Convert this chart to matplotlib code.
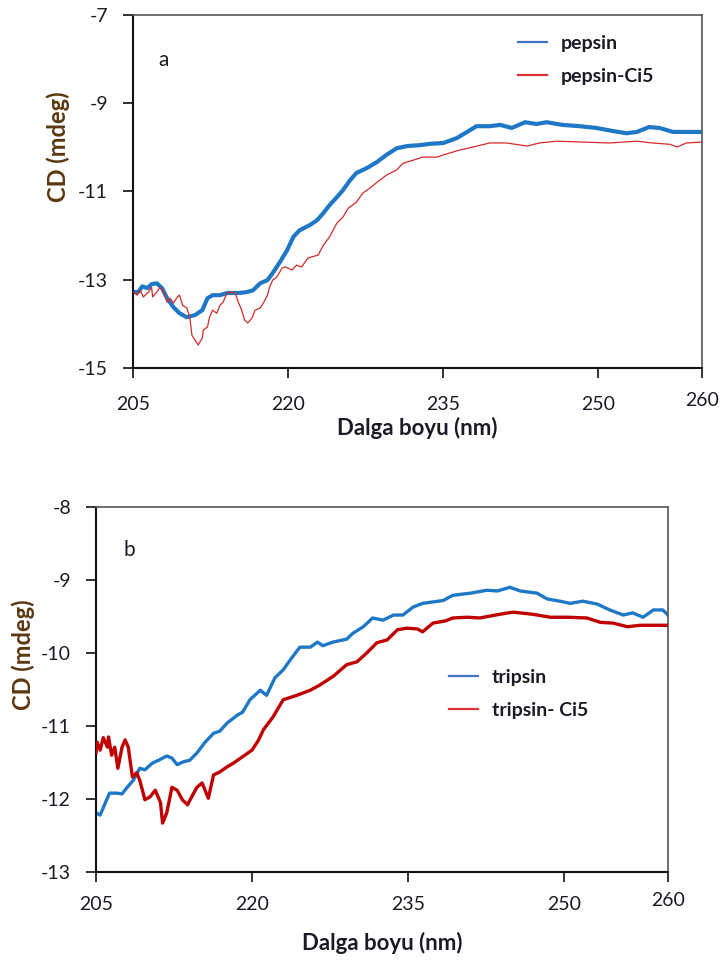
"""
CD spectra of pepsin / tripsin with and without Ci5 (two stacked panels).
"""
from matplotlib import pyplot as plt

plt.rcParams['font.family'] = ['Lato', 'DejaVu Sans']
plt.rcParams['axes.unicode_minus'] = False

# ---- panel a: pepsin ----
pepsin_nm = [205.0, 205.5, 205.9, 206.4, 206.8, 207.3, 207.8, 208.3, 208.9, 209.5,
             210.2, 211.0, 211.7, 212.2, 212.7, 213.4, 214.1, 214.7, 215.3, 216.0,
             216.6, 217.3, 218.0, 218.5, 219.2, 219.9, 220.5, 221.1, 222.1, 222.8,
             223.4, 224.0, 224.7, 225.3, 226.0, 226.6, 227.6, 228.6, 229.5, 230.5,
             231.5, 232.7, 233.7, 235.0, 236.3, 237.3, 238.2, 239.5, 240.5, 241.6,
             242.9, 244.0, 245.0, 246.5, 248.2, 249.8, 251.4, 252.7, 253.7, 254.9,
             255.9, 257.2, 258.5, 260.0]
pepsin_cd = [-13.28, -13.28, -13.15, -13.19, -13.10, -13.08, -13.19, -13.42, -13.62, -13.76,
             -13.85, -13.80, -13.69, -13.42, -13.35, -13.35, -13.30, -13.30, -13.30, -13.28,
             -13.24, -13.08, -13.01, -12.85, -12.60, -12.33, -12.03, -11.88, -11.76, -11.65,
             -11.49, -11.31, -11.13, -10.97, -10.74, -10.58, -10.47, -10.33, -10.17, -10.02,
             -9.97, -9.95, -9.92, -9.90, -9.79, -9.65, -9.52, -9.52, -9.49, -9.56,
             -9.43, -9.47, -9.43, -9.49, -9.52, -9.56, -9.63, -9.68, -9.65, -9.54,
             -9.56, -9.65, -9.65, -9.65]

pepsin_ci5_nm = [205.0, 205.4, 205.7, 206.0, 206.5, 206.8, 206.9, 207.3, 207.6, 207.9,
                 208.3, 208.6, 208.9, 209.3, 209.5, 209.8, 210.2, 210.5, 210.7, 211.0,
                 211.3, 211.7, 211.8, 212.2, 212.4, 212.7, 213.1, 213.4, 213.7, 214.1,
                 214.4, 214.9, 215.1, 215.5, 215.8, 216.1, 216.5, 216.8, 217.3, 217.6,
                 218.0, 218.2, 218.5, 218.9, 219.4, 219.7, 220.4, 220.8, 221.3, 221.9,
                 222.9, 223.4, 224.0, 224.7, 225.3, 225.8, 226.6, 227.2, 227.9, 228.6,
                 229.5, 230.5, 231.1, 232.1, 233.0, 234.4, 235.0, 236.6, 237.9, 239.5,
                 241.1, 243.1, 244.3, 246.0, 248.5, 251.1, 253.7, 255.2, 256.9, 257.6,
                 258.5, 260.0]
pepsin_ci5_cd = [-13.27, -13.35, -13.24, -13.39, -13.28, -13.17, -13.39, -13.28, -13.17, -13.24,
                 -13.51, -13.42, -13.53, -13.39, -13.35, -13.58, -13.64, -13.87, -14.26, -14.37,
                 -14.48, -14.32, -14.14, -14.07, -13.85, -13.69, -13.76, -13.58, -13.51, -13.30,
                 -13.28, -13.30, -13.46, -13.69, -13.92, -13.98, -13.87, -13.69, -13.64, -13.53,
                 -13.35, -13.17, -13.01, -12.94, -12.74, -12.71, -12.78, -12.67, -12.71, -12.51,
                 -12.44, -12.22, -12.03, -11.72, -11.58, -11.38, -11.24, -11.04, -10.92, -10.79,
                 -10.63, -10.51, -10.36, -10.29, -10.22, -10.22, -10.17, -10.06, -9.99, -9.90,
                 -9.90, -9.97, -9.90, -9.86, -9.88, -9.90, -9.86, -9.90, -9.93, -9.99,
                 -9.90, -9.88]

# ---- panel b: tripsin ----
tripsin_nm = [205.0, 205.4, 205.9, 206.3, 207.0, 207.5, 208.0, 208.6, 209.2, 209.7,
              210.4, 211.0, 211.8, 212.3, 212.8, 213.4, 214.0, 214.7, 215.5, 216.3,
              216.9, 217.6, 218.6, 219.1, 219.8, 220.8, 221.4, 222.2, 223.0, 223.8,
              224.6, 225.6, 226.3, 226.8, 227.8, 229.1, 229.7, 230.7, 231.6, 232.6,
              233.6, 234.5, 235.5, 236.4, 237.4, 238.4, 239.3, 241.0, 242.6, 243.6,
              244.8, 245.8, 247.4, 248.4, 249.6, 250.6, 251.8, 253.2, 254.4, 255.7,
              256.6, 257.6, 258.6, 259.5, 260.0]
tripsin_cd = [-12.19, -12.22, -12.05, -11.92, -11.92, -11.93, -11.84, -11.74, -11.58, -11.60,
              -11.51, -11.47, -11.41, -11.44, -11.53, -11.49, -11.47, -11.37, -11.22, -11.10,
              -11.07, -10.96, -10.85, -10.81, -10.64, -10.51, -10.58, -10.34, -10.23, -10.07,
              -9.92, -9.92, -9.85, -9.90, -9.85, -9.81, -9.73, -9.64, -9.52, -9.55,
              -9.48, -9.48, -9.37, -9.32, -9.30, -9.28, -9.21, -9.18, -9.14, -9.15,
              -9.10, -9.15, -9.18, -9.26, -9.29, -9.32, -9.29, -9.33, -9.41, -9.48,
              -9.45, -9.51, -9.41, -9.41, -9.48]

tripsin_ci5_nm = [205.0, 205.1, 205.4, 205.7, 206.1, 206.2, 206.5, 206.8, 207.1, 207.5,
                  207.8, 208.1, 208.5, 208.9, 209.2, 209.7, 210.2, 210.7, 211.2, 211.4,
                  211.8, 212.3, 212.8, 213.3, 213.8, 214.2, 214.7, 215.2, 215.8, 216.3,
                  216.9, 217.6, 218.2, 219.1, 220.0, 220.6, 221.1, 222.0, 223.0, 224.3,
                  225.6, 226.5, 227.8, 229.1, 230.1, 231.1, 232.0, 233.0, 234.0, 234.9,
                  235.9, 236.4, 237.4, 238.6, 239.3, 240.7, 241.9, 243.8, 245.1, 247.0,
                  248.7, 250.3, 252.2, 253.5, 254.7, 256.1, 257.3, 258.9, 260.0]
tripsin_ci5_cd = [-11.37, -11.22, -11.33, -11.16, -11.29, -11.15, -11.40, -11.29, -11.58, -11.29,
                  -11.19, -11.29, -11.70, -11.64, -11.74, -12.01, -11.97, -11.88, -12.05, -12.33,
                  -12.19, -11.84, -11.88, -12.01, -12.08, -11.97, -11.84, -11.78, -11.99, -11.67,
                  -11.63, -11.56, -11.51, -11.42, -11.33, -11.20, -11.05, -10.88, -10.64, -10.58,
                  -10.51, -10.44, -10.32, -10.16, -10.12, -9.99, -9.86, -9.82, -9.68, -9.66,
                  -9.67, -9.71, -9.59, -9.56, -9.52, -9.51, -9.52, -9.47, -9.44, -9.47,
                  -9.51, -9.51, -9.52, -9.58, -9.59, -9.64, -9.62, -9.62, -9.62]

x_ticks = [205, 220, 235, 250, 260]
top_y_ticks = [-15, -13, -11, -9, -7]
bottom_y_ticks = [-13, -12, -11, -10, -9, -8]

BLUE = '#1f78c6'
TEXT = '#1c1a24'


def style_axes(ax, y_ticks, xpad):
    """
    Applies the Excel-like frame, ticks and fonts to one panel.
    """
    ax.set_xlim(205, 260)
    ax.set_ylim(y_ticks[0], y_ticks[-1])
    ax.set_xticks(x_ticks)
    ax.set_yticks(y_ticks)
    ax.tick_params(direction='out', length=7, width=1.3, colors='#222222',
                   labelsize=14, labelcolor=TEXT)
    ax.tick_params(axis='y', pad=11)
    ax.tick_params(axis='x', pad=xpad)
    for side in ['left', 'bottom']:
        ax.spines[side].set_linewidth(1.5)
        ax.spines[side].set_color('#111111')
    for side in ['top', 'right']:
        ax.spines[side].set_linewidth(1.2)
        ax.spines[side].set_color('#555555')
    ax.set_xlabel('Dalga boyu (nm)', fontsize=16, fontweight='bold', color=TEXT)
    ax.set_ylabel('CD (mdeg)', fontsize=17, fontweight='bold', color='#5a3812')
    # Excel draws the axis-maximum label (260) a touch higher than the others
    ax.get_xticklabels()[-1].set_y(0.012)


def add_legend(ax, labels, anchor):
    """
    Frameless legend with short line handles, as in the reference.
    """
    handles = [plt.Line2D([], [], color='#4472c4', lw=1.6, label=labels[0]),
               plt.Line2D([], [], color='#e0303a', lw=1.6, label=labels[1])]
    leg = ax.legend(handles=handles, loc='upper left', bbox_to_anchor=anchor,
                    frameon=False, borderpad=0, borderaxespad=0,
                    handlelength=1.5, handletextpad=0.7, labelspacing=0.8,
                    prop={'weight': 'bold', 'size': 14})
    for t in leg.get_texts():
        t.set_color(TEXT)


fig = plt.figure(figsize=(7.22, 9.63), dpi=100)

# panel a
ax_a = fig.add_axes([0.1842, 0.6179, 0.788, 0.3665])
ax_a.plot(pepsin_nm, pepsin_cd, color=BLUE, lw=3.0, zorder=2)
ax_a.plot(pepsin_ci5_nm, pepsin_ci5_cd, color='#d42a2a', lw=0.9, zorder=3)
style_axes(ax_a, top_y_ticks, xpad=13)
ax_a.xaxis.set_label_coords(0.5, -0.139)
ax_a.yaxis.set_label_coords(-0.111, 0.626)
ax_a.text(0.053, 0.873, 'a', transform=ax_a.transAxes, fontsize=15,
          color=TEXT, ha='center', va='center')
add_legend(ax_a, ['pepsin', 'pepsin-Ci5'], (0.677, 0.943))

# panel b
ax_b = fig.add_axes([0.133, 0.0945, 0.7922, 0.379])
ax_b.plot(tripsin_nm, tripsin_cd, color=BLUE, lw=2.4, zorder=2)
ax_b.plot(tripsin_ci5_nm, tripsin_ci5_cd, color='#c00000', lw=2.4, zorder=3)
style_axes(ax_b, bottom_y_ticks, xpad=10.5)
ax_b.xaxis.set_label_coords(0.5, -0.164)
ax_b.yaxis.set_label_coords(-0.107, 0.595)
ax_b.text(0.059, 0.882, 'b', transform=ax_b.transAxes, fontsize=15,
          color=TEXT, ha='center', va='center')
add_legend(ax_b, ['tripsin', 'tripsin- Ci5'], (0.617, 0.556))

plt.savefig('out.png', dpi=100)
